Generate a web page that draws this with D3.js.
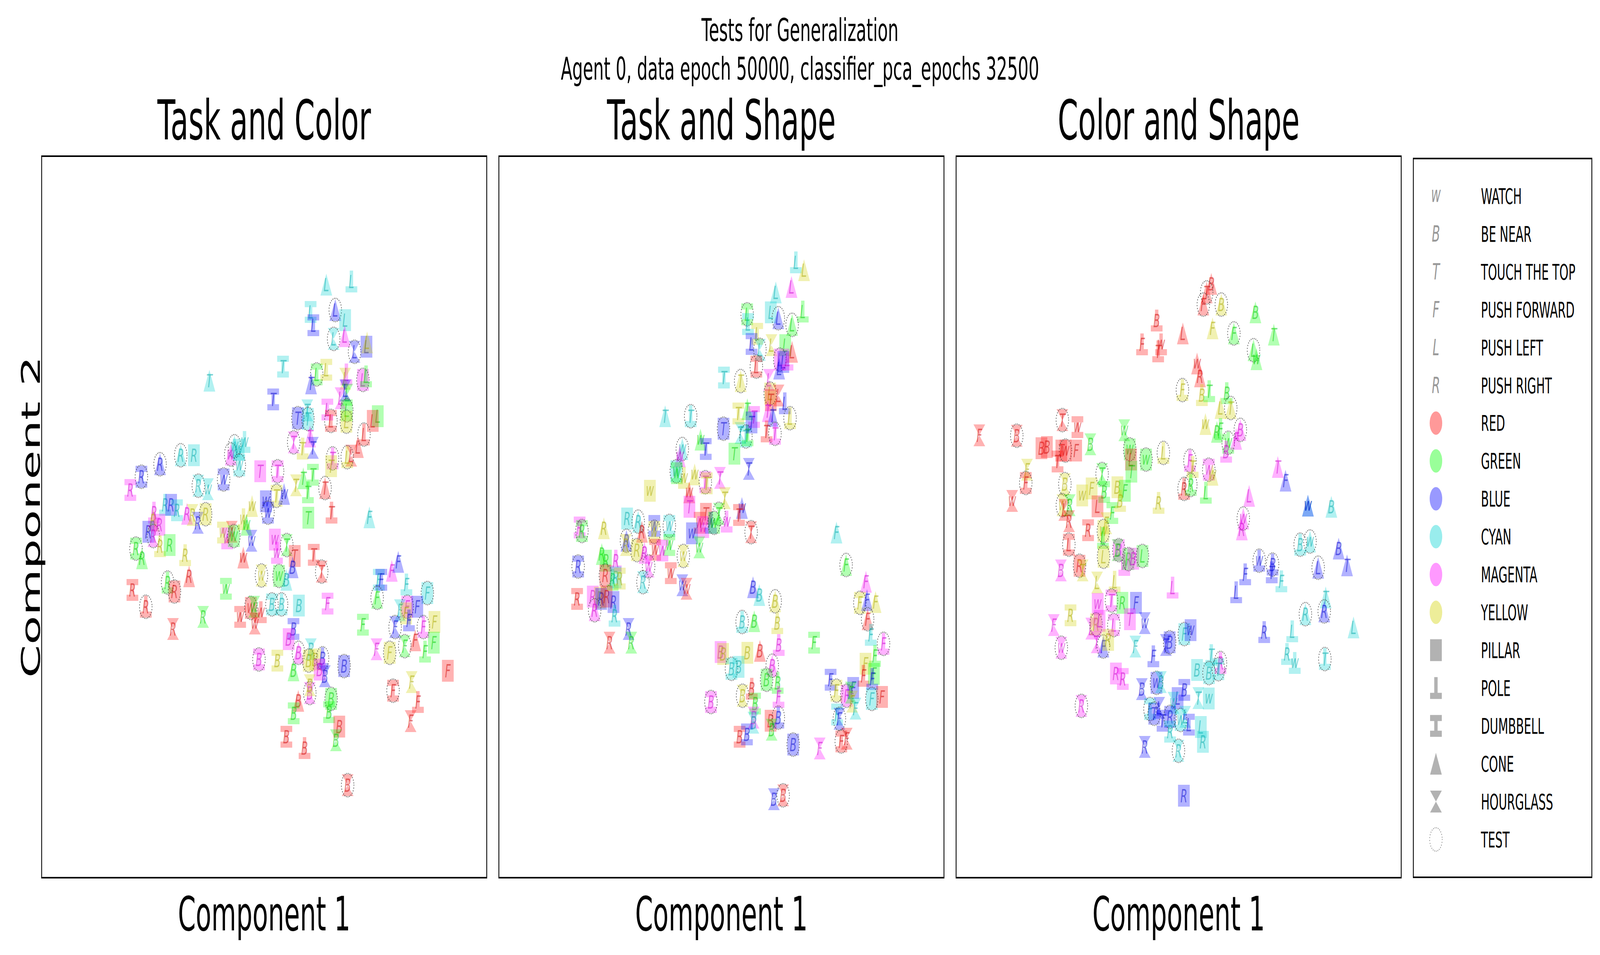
<!DOCTYPE html>
<html>
<head>
<meta charset="utf-8">
<script src="https://cdn.jsdelivr.net/npm/d3@7"></script>
<style>
  html, body { margin: 0; padding: 0; background: #fff; overflow: hidden; }
  svg { display: block; }
  text { font-family: 'DejaVu Sans', sans-serif; }
</style>
</head>
<body>
<script>
// categories
const tasks = ['w', 'B', 'T', 'F', 'L', 'R']
const taskNames = ['WATCH', 'BE NEAR', 'TOUCH THE TOP', 'PUSH FORWARD', 'PUSH LEFT', 'PUSH RIGHT']
const colorKeys = ['r', 'g', 'b', 'c', 'm', 'y']
const colorNames = ['RED', 'GREEN', 'BLUE', 'CYAN', 'MAGENTA', 'YELLOW']
const colorValues = ['#ff0000', '#00ff00', '#0000ff', '#00d2d2', '#ff00ff', '#d2d200']
const shapeKeys = ['P', 'O', 'D', 'C', 'H']
const shapeNames = ['PILLAR', 'POLE', 'DUMBBELL', 'CONE', 'HOURGLASS']
const panelTitles = ['Task and Color', 'Task and Shape', 'Color and Shape']
const suptitle = ['Tests for Generalization', 'Agent 0, data epoch 50000, classifier_pca_epochs 32500']

// points: [component 1, component 2, task + color + shape (+ 't' for test)]
const taskColorPoints = [
  [2.97,5.95,'LcC'],[4.17,6.03,'LcO'],[2.22,5.25,'LcD'],[2.35,4.91,'LbD'],[3.40,5.30,'LbCt'],[3.87,5.04,'LcP'],
  [3.32,4.56,'LcHt'],[3.85,4.63,'LmC'],[4.32,4.23,'LbHt'],[4.89,4.36,'LbP'],[4.92,4.47,'LyC'],[0.90,3.85,'TcD'],
  [2.51,3.65,'LgDt'],[2.97,3.77,'LyD'],[2.24,3.42,'TbC'],[3.93,3.65,'LmO'],[3.87,3.54,'LyH'],[4.72,3.51,'LmPt'],
  [4.87,3.60,'LgO'],[0.43,3.01,'TbD'],[3.65,3.04,'LmH'],[3.97,3.13,'LgH'],[3.88,3.24,'LbH'],[2.06,2.73,'TcH'],
  [1.61,2.53,'TbPt'],[2.09,2.51,'TcPt'],[3.02,2.75,'LmD'],[3.19,2.46,'LrDt'],[3.95,2.73,'LgPt'],[3.93,2.44,'LyPt'],
  [5.43,2.58,'LgP'],[5.19,2.46,'LrP'],[4.77,2.11,'LrOt'],[4.48,1.79,'LrC'],[4.16,1.57,'LrH'],[3.97,1.53,'LyOt'],
  [1.41,1.91,'TmHt'],[1.84,1.75,'TyO'],[2.19,2.06,'TmC'],[2.33,1.77,'TbH'],[3.27,1.50,'TmOt'],[3.20,1.30,'TyP'],
  [-0.19,1.17,'TmP'],[0.64,1.17,'TmDt'],[1.52,0.81,'TyH'],[1.87,0.99,'TgC'],[2.33,1.08,'TgD'],[2.09,0.63,'TgO'],
  [2.91,0.74,'TrCt'],[0.59,0.54,'TyDt'],[0.95,0.59,'wbC'],[0.08,0.40,'wbP'],[-1.42,1.81,'wcCt'],[-0.94,1.92,'wcO'],
  [-1.60,1.60,'wmCt'],[-1.22,1.72,'wcP'],[-1.19,1.32,'wcDt'],[-3.99,1.58,'RcCt'],[-3.36,1.58,'RcP'],[-4.98,1.35,'RbCt'],
  [-5.87,1.03,'RbDt'],[-6.40,0.69,'RmD'],[-3.15,0.80,'RcHt'],[-2.69,0.71,'wcH'],[-1.94,0.96,'wbDt'],[0.18,0.11,'wbDt'],
  [-4.74,0.31,'RcO'],[-4.45,0.31,'RbP'],[-4.17,0.17,'RcD'],[-5.27,0.11,'RmO'],[-3.69,0.08,'RmC'],[-3.43,0.05,'RyH'],
  [-3.17,-0.15,'RbH'],[-2.80,0.07,'RyPt'],[-5.30,-0.09,'RyC'],[-5.01,-0.20,'RmP'],[-5.54,-0.38,'RbP'],[-5.30,-0.49,'RmHt'],
  [-4.98,-0.75,'RyO'],[-4.52,-0.72,'RgP'],[-6.13,-0.81,'RgDt'],[-5.84,-1.06,'RgC'],[-3.78,-0.98,'RyO'],[-3.59,-1.52,'RrC'],
  [-6.30,-1.87,'RrD'],[-5.66,-2.30,'RrOt'],[-4.62,-1.68,'RgOt'],[-4.29,-1.91,'RrPt'],[-4.36,-2.87,'RrH'],[-2.92,-2.56,'RgH'],
  [-1.97,-0.40,'wyD'],[-1.77,-0.55,'wmD'],[-1.55,-0.38,'wrH'],[-1.45,-0.49,'wgPt'],[-0.99,-0.06,'wyO'],[-0.85,-0.20,'wgC'],
  [-0.58,0.28,'wyC'],[-0.61,-0.61,'wbH'],[-1.00,-1.04,'wrC'],[-1.83,-1.84,'wgD'],[-1.15,-2.56,'wrD'],[-0.64,-2.33,'wrPt'],
  [-0.48,-2.30,'wgH'],[-0.16,-2.44,'wrO'],[-0.45,-2.73,'wrH'],[-0.13,-1.50,'wyHt'],[0.51,-0.58,'wmP'],[0.61,-0.92,'wmO'],
  [1.08,-0.72,'TgHt'],[1.46,-1.00,'TrP'],[1.36,-1.29,'BbC'],[0.71,-1.51,'wgPt'],[1.06,-1.61,'BcC'],[0.37,-2.24,'BcDt'],
  [0.83,-2.24,'BcOt'],[1.66,-2.27,'BcP'],[1.40,-2.87,'BbD'],[1.17,-3.13,'BmP'],[1.64,-3.48,'BmCt'],[-0.25,-3.65,'BmDt'],
  [0.63,-3.68,'ByD'],[1.40,-3.93,'BgC'],[1.63,-4.71,'BrC'],[1.41,-5.03,'BgD'],[1.06,-5.63,'BrD'],[2.11,-0.02,'TgP'],
  [3.22,0.11,'TrO'],[5.03,-0.01,'FcC'],[2.37,-0.97,'TrD'],[2.75,-1.40,'TrHt'],[3.03,-2.22,'FmD'],[2.23,-3.39,'BcH'],
  [2.13,-3.68,'ByPt'],[2.44,-3.65,'ByP'],[2.79,-3.62,'BbOt'],[2.65,-3.91,'BmP'],[2.90,-4.08,'BbH'],[3.82,-3.82,'BbPt'],
  [2.18,-4.51,'BmHt'],[2.18,-4.31,'ByH'],[3.20,-4.66,'BgPt'],[3.10,-5.00,'BgD'],[3.59,-5.37,'BrP'],[3.43,-5.72,'BgH'],
  [1.93,-5.92,'BrO'],[3.99,-6.87,'BrHt'],[5.48,-1.61,'FcD'],[5.60,-1.61,'FbD'],[6.10,-1.38,'FmC'],[6.41,-1.15,'FbC'],
  [5.40,-2.07,'FgCt'],[4.72,-2.76,'FgD'],[6.80,-1.73,'FcO'],[7.80,-1.95,'FcPt'],[6.84,-2.30,'FmPt'],[7.32,-2.30,'FbP'],
  [6.49,-2.39,'FcH'],[6.78,-2.47,'FyP'],[6.26,-2.82,'FbHt'],[6.92,-2.65,'FbO'],[8.14,-2.69,'FyP'],[7.61,-2.82,'FmOt'],
  [7.22,-3.16,'FrC'],[8.11,-3.22,'FgP'],[7.69,-3.45,'FgO'],[5.37,-3.39,'FmH'],[6.00,-3.48,'FyPt'],[6.72,-3.31,'FgHt'],
  [8.78,-3.94,'FrP'],[7.05,-4.23,'FyH'],[6.16,-4.45,'FrDt'],[7.35,-4.74,'FrO'],[7.00,-5.23,'FrH'],[-2.62,3.49,'TcC']
]

const taskShapePoints = [
  [-2.69,2.58,'TcC'],[-1.47,2.58,'TcOt'],[0.10,2.26,'TbPt'],[0.91,2.15,'TcH'],[1.17,2.06,'TcDt'],[1.25,2.09,'TgO'],
  [-1.00,1.98,'wgC'],[-0.75,1.74,'TbD'],[0.62,1.62,'TgP'],[1.31,1.23,'TbH'],[-1.87,1.74,'wcCt'],[-1.99,1.55,'wmC'],
  [-2.16,1.17,'wcPt'],[-2.13,1.12,'wgD'],[-3.42,0.67,'wyP'],[-1.79,1.00,'wyO'],[-1.28,1.09,'wyC'],[-0.77,0.89,'TmDt'],
  [-0.70,0.86,'TyD'],[-0.07,1.00,'TmH'],[0.16,0.48,'TyH'],[-1.54,0.63,'wrC'],[-1.53,0.26,'TmP'],[-0.74,0.08,'TrP'],
  [-1.04,-0.15,'wrD'],[-0.87,-0.26,'wmP'],[-1.41,-0.42,'wbP'],[-1.06,-0.78,'wgH'],[-0.50,-0.15,'wbO'],[-0.12,0.08,'TgHt'],
  [-0.35,-0.15,'wgPt'],[0.25,-0.12,'wmO'],[0.98,0.23,'wbC'],[0.84,0.05,'TrD'],[1.42,-0.39,'TrHt'],[-6.78,-0.27,'RmD'],
  [-6.67,-0.36,'RgDt'],[-5.62,-0.29,'RyC'],[-4.51,-0.04,'RcP'],[-3.98,-0.12,'RcCt'],[-3.80,-0.38,'RrC'],[-4.54,-0.61,'RbCt'],
  [-4.57,-0.72,'RyH'],[-4.04,-0.85,'RyPt'],[-3.21,-0.23,'wbD'],[-3.21,-0.38,'wyDt'],[-2.49,-0.23,'wcDt'],[-2.49,-0.72,'wgD'],
  [-3.68,-0.92,'RmC'],[-3.17,-0.84,'wrD'],[-2.82,-0.86,'wmD'],[-3.48,-1.27,'wmHt'],[-1.82,-1.00,'wyHt'],[-2.42,-1.44,'wrD'],
  [-1.87,-1.75,'wbH'],[-1.67,-1.84,'wrH'],[-6.85,-1.27,'RbDt'],[-6.90,-2.10,'RrD'],[-5.72,-0.95,'RgC'],[-5.52,-1.12,'RgP'],
  [-5.05,-1.12,'RmO'],[-5.55,-1.50,'RrPt'],[-5.20,-1.61,'RgO'],[-5.06,-1.55,'RcP'],[-4.86,-1.58,'RyD'],[-6.15,-2.04,'RmP'],
  [-5.81,-2.07,'RyP'],[-5.75,-2.10,'RbP'],[-5.49,-2.04,'RrP'],[-5.16,-2.18,'RbP'],[-6.06,-2.39,'RmCt'],[-5.11,-2.53,'RcO'],
  [-3.75,-1.67,'RcHt'],[-5.35,-3.22,'RrH'],[-4.44,-2.87,'RbH'],[-4.31,-3.22,'RgH'],[3.56,6.52,'LcO'],[3.95,6.32,'LyC'],
  [3.35,5.89,'LmC'],[2.60,5.75,'LcC'],[2.36,5.24,'LcP'],[2.72,5.09,'LbCt'],[3.89,5.26,'LgO'],[3.38,4.92,'LgCt'],
  [1.23,5.19,'LgDt'],[1.27,4.94,'LcD'],[1.71,4.69,'LyD'],[1.44,4.43,'LbD'],[1.84,4.28,'LcHt'],[2.39,4.40,'LyH'],
  [3.05,4.40,'LgP'],[3.38,4.23,'LrC'],[1.67,3.85,'LrDt'],[2.79,4.03,'LmPt'],[2.96,3.97,'LbP'],[2.76,3.80,'LbC'],
  [3.16,4.03,'LmO'],[0.12,3.57,'TcD'],[0.92,3.48,'TyCt'],[2.27,3.51,'LmH'],[2.33,3.16,'LyPt'],[2.73,3.11,'LrH'],
  [3.03,2.91,'LbO'],[3.28,2.53,'LyOt'],[2.36,2.99,'TrP'],[2.22,2.71,'TmC'],[2.45,2.59,'TbC'],[2.16,2.19,'TrO'],
  [2.56,2.13,'TmOt'],[0.81,2.65,'TyD'],[1.24,2.76,'TgC'],[1.56,2.56,'TmD'],[1.44,2.42,'TbP'],[5.50,-0.40,'FcC'],
  [5.96,-1.23,'FgCt'],[6.91,-1.66,'FmC'],[6.62,-2.20,'FyDt'],[6.96,-2.13,'FbC'],[7.37,-2.18,'FyC'],[6.99,-2.62,'FrCt'],
  [7.14,-3.02,'FcO'],[7.75,-3.25,'FmOt'],[7.34,-3.56,'FgO'],[6.89,-3.76,'FyP'],[6.79,-4.07,'FrO'],[7.29,-4.02,'FgP'],
  [7.21,-4.15,'FbO'],[7.19,-4.66,'FcPt'],[7.68,-4.61,'FrP'],[5.22,-4.17,'FbD'],[5.50,-4.45,'FyDt'],[5.99,-4.58,'FmPt'],
  [6.30,-4.38,'FbP'],[6.19,-4.50,'FgH'],[6.25,-4.73,'FyH'],[6.41,-4.91,'FcH'],[5.53,-5.06,'FcD'],[5.64,-5.17,'FbHt'],
  [5.73,-5.75,'FrDt'],[5.99,-5.68,'FrH'],[4.70,-5.93,'FmH'],[4.43,-3.22,'FgD'],[1.51,-1.80,'BbC'],[1.81,-2.00,'BcC'],
  [2.57,-2.16,'ByCt'],[0.99,-2.69,'BcOt'],[1.57,-2.67,'BgC'],[2.67,-2.72,'ByO'],[2.74,-3.28,'BmO'],[-0.04,-3.46,'BmP'],
  [0.08,-3.51,'ByP'],[1.24,-3.48,'ByP'],[1.84,-3.43,'BrC'],[0.48,-3.89,'BcDt'],[0.82,-3.84,'BcP'],[2.43,-3.81,'BmCt'],
  [2.16,-4.17,'BgPt'],[2.69,-4.25,'BgO'],[2.73,-4.61,'FmO'],[1.01,-4.58,'ByHt'],[1.45,-4.40,'BrO'],[1.61,-4.78,'BgD'],
  [1.54,-5.14,'BmH'],[1.53,-5.27,'BcH'],[2.35,-5.22,'BrP'],[2.72,-5.14,'BbOt'],[2.40,-5.45,'BgH'],[0.87,-5.63,'BrD'],
  [1.22,-5.57,'BbD'],[3.43,-5.83,'BbPt'],[2.51,-7.23,'BbH'],[2.95,-7.13,'BrHt'],[-0.50,-4.74,'BmDt']
]

const colorShapePoints = [
  [-9.53,2.09,'FrH'],[-7.74,2.08,'BrHt'],[-6.56,1.76,'BrP'],[-6.30,1.79,'BrP'],[-5.56,2.48,'TrHt'],[-4.84,2.30,'wrD'],
  [-5.61,1.70,'TrP'],[-5.41,1.70,'wrPt'],[-4.90,1.70,'FrP'],[-5.79,1.42,'TrD'],[-4.22,1.86,'BgH'],[-7.25,1.21,'FyH'],
  [-7.31,0.87,'FrDt'],[-7.96,0.41,'wrH'],[-5.44,0.84,'ByHt'],[-5.56,0.30,'wyHt'],[-5.47,0.18,'LrH'],[-5.21,0.30,'RgH'],
  [-5.24,-0.11,'RrH'],[-5.25,-0.71,'LrDt'],[-4.61,0.55,'wyP'],[-4.16,0.73,'FyP'],[-3.66,1.10,'TgHt'],[-3.56,0.64,'BgD'],
  [-3.88,0.27,'LrP'],[-4.33,-0.34,'RrD'],[-3.17,0.10,'FgD'],[-3.46,-0.16,'FyH'],[-3.60,-0.36,'wyPt'],[-3.62,-0.54,'LgO'],
  [-3.59,-1.02,'LyPt'],[-2.60,2.22,'wgH'],[-2.34,1.73,'wgPt'],[-2.28,1.47,'LrP'],[-2.26,1.16,'TgP'],[-2.93,0.76,'ByP'],
  [-2.57,0.67,'FgP'],[-2.80,0.41,'ByO'],[-1.56,1.47,'wgPt'],[-2.86,-0.85,'BmPt'],[-2.92,-0.85,'BgH'],[-2.60,-1.23,'wmO'],
  [-2.40,-1.08,'RgPt'],[-2.17,-1.07,'BmP'],[-1.73,-1.00,'LgPt'],[-5.63,-1.37,'BmH'],[-4.74,-1.25,'RrPt'],[-4.59,-1.37,'TyH'],
  [-3.90,-1.68,'LyH'],[-3.06,-1.66,'LyO'],[-3.87,-2.23,'wmP'],[-3.21,-2.14,'TmDt'],[-2.69,-2.20,'RgP'],[-2.04,-2.20,'FbP'],
  [-2.33,-2.62,'TmP'],[-1.62,-2.72,'wbH'],[-5.17,-2.52,'RyD'],[-5.97,-2.77,'FmH'],[-5.61,-3.35,'wmHt'],[-4.18,-2.86,'LmH'],
  [-3.95,-2.75,'RyPt'],[-3.78,-2.66,'LmP'],[-3.10,-2.77,'LmDt'],[-3.92,-3.21,'TmH'],[-3.60,-3.32,'FbCt'],[-3.37,-3.15,'RyP'],
  [-2.07,-3.32,'FcH'],[-3.00,-4.01,'RmP'],[-2.67,-4.15,'RmD'],[-1.76,-4.41,'BbH'],[-4.65,-4.84,'RmHt'],[1.56,5.97,'BrC'],
  [1.34,5.75,'TrCt'],[1.18,5.44,'FrCt'],[2.04,5.44,'ByCt'],[3.67,5.24,'BgC'],[1.62,4.83,'FyC'],[2.64,4.70,'FgCt'],
  [4.55,4.67,'TgC'],[-1.05,5.03,'BrO'],[0.20,4.70,'LrC'],[-0.84,4.42,'wrO'],[-0.98,4.24,'TrO'],[-1.75,4.42,'FrO'],
  [3.58,4.27,'LgCt'],[3.72,4.04,'wgC'],[0.88,3.93,'wrC'],[1.02,3.60,'RrC'],[0.18,3.25,'FyOt'],[1.11,3.12,'ByO'],
  [1.46,3.22,'TgO'],[2.30,3.17,'BgO'],[2.00,2.79,'LyC'],[2.49,2.79,'TyCt'],[1.28,2.38,'wyC'],[1.83,2.18,'RgC'],
  [2.00,2.25,'FgO'],[2.37,1.90,'wgOt'],[2.27,1.67,'BmO'],[2.75,2.00,'FmC'],[2.95,2.23,'BmCt'],[-0.73,1.64,'LyOt'],
  [0.54,1.44,'FmOt'],[0.67,1.28,'TyO'],[1.44,1.21,'wmDt'],[1.62,1.08,'wyC'],[0.26,0.72,'RrOt'],[0.58,0.82,'RgOt'],
  [1.30,0.62,'LgO'],[-0.96,0.36,'RyO'],[3.37,0.54,'LmC'],[4.74,1.28,'TmC'],[5.11,0.93,'FbC'],[6.18,0.29,'wcC'],
  [6.18,0.29,'wbC'],[7.30,0.26,'BcC'],[3.09,-0.04,'wmCt'],[3.02,-0.32,'RmC'],[5.81,-0.71,'BcOt'],[6.28,-0.63,'wcCt'],
  [7.65,-0.81,'BbC'],[3.18,-1.47,'FbO'],[3.85,-1.12,'wbOt'],[4.49,-1.22,'BbOt'],[4.45,-1.42,'TbO'],[4.91,-1.65,'FcO'],
  [2.75,-1.93,'LbO'],[6.67,-1.30,'LbCt'],[8.05,-1.24,'TbC'],[7.03,-2.06,'TcC'],[6.06,-2.49,'RcCt'],[6.96,-2.42,'RbCt'],
  [8.36,-2.83,'LcC'],[4.09,-2.95,'RbO'],[5.43,-2.93,'LcO'],[5.18,-3.51,'RcO'],[5.55,-3.74,'wcO'],[6.99,-3.64,'TcOt'],
  [-0.29,-1.81,'LmO'],[-1.21,-3.57,'FbO'],[-0.61,-3.28,'TbH'],[-0.43,-3.21,'BbPt'],[0.27,-3.00,'FcPt'],[0.57,-2.90,'wbP'],
  [1.56,-3.54,'TcO'],[2.00,-3.74,'RmOt'],[0.88,-3.92,'BcP'],[1.45,-4.00,'BcPt'],[1.90,-3.90,'TcDt'],[-1.06,-4.25,'wbPt'],
  [-0.85,-4.23,'BcH'],[0.27,-4.43,'BbD'],[-0.05,-4.64,'LbP'],[-0.25,-4.76,'wcH'],[0.94,-4.64,'TcH'],[1.44,-4.65,'wcP'],
  [-1.37,-4.92,'FcDt'],[-1.17,-5.04,'TbPt'],[-0.93,-4.89,'LbH'],[-0.77,-5.22,'TbD'],[-0.41,-5.12,'RbPt'],[-0.41,-5.50,'RcD'],
  [0.09,-5.20,'wcDt'],[0.31,-5.12,'LcH'],[0.49,-5.32,'LbD'],[1.06,-5.38,'LcP'],[1.16,-5.76,'RcP'],[-1.62,-5.89,'RbH'],
  [-0.01,-5.99,'RcHt'],[0.25,-7.14,'RbP']
]

const panelPoints = [taskColorPoints, taskShapePoints, colorShapePoints]

const width = 7646
const height = 2446
const panelLeft = 199
const panelTop = 400
const panelWidth = 2127
const panelHeight = 1848
const panelGap = 58
const markerSize = 56

let body = d3.select('body')

// the figure is laid out on a 7646x2446 grid and stretched onto the real window
let svg = body.append('svg')
    .attr('viewBox', '0 0 ' + width + ' ' + height)
    .attr('preserveAspectRatio', 'none')
    .attr('width', window.innerWidth)
    .attr('height', window.innerHeight)

let colorOf = key => colorValues[colorKeys.indexOf(key)]
let letterColor = key => {
    let c = d3.rgb(colorOf(key))
    return d3.rgb(c.r * 0.8, c.g * 0.8, c.b * 0.8).toString()
}

function shapePath(shape, s) {
    const h = s / 2, bw = s * 0.29 / 2, bh = s * 0.28
    if (shape === 'P') return `M${-h},${-h}H${h}V${h}H${-h}Z`
    if (shape === 'O') return `M${-bw},${-h}H${bw}V${h - bh}H${h}V${h}H${-h}V${h - bh}H${-bw}Z`
    if (shape === 'D') return `M${-h},${-h}H${h}V${-h + bh}H${bw}V${h - bh}H${h}V${h}H${-h}V${h - bh}H${-bw}V${-h + bh}H${-h}Z`
    if (shape === 'C') return `M0,${-h}L${h},${h}H${-h}Z`
    return `M${-h},${-h}H${h}L0,0Z M0,0L${h},${h}H${-h}Z`
}

// suptitle
svg.append('text')
    .attr('x', width / 2).attr('y', 105)
    .attr('text-anchor', 'middle').style('font-size', '80px')
    .text(suptitle[0])
svg.append('text')
    .attr('x', width / 2).attr('y', 204)
    .attr('text-anchor', 'middle').style('font-size', '80px')
    .text(suptitle[1])

panelPoints.forEach((points, i) => {
    let left = panelLeft + i * (panelWidth + panelGap)

    let xScale = d3.scaleLinear().domain([-10.64, 10.64]).range([left, left + panelWidth])
    let yScale = d3.scaleLinear().domain([-9.24, 9.24]).range([panelTop + panelHeight, panelTop])

    let g = svg.append('g').attr('class', 'panel')

    let pts = g.selectAll('g.pt')
        .data(points)
        .join('g')
        .attr('class', 'pt')
        .attr('transform', d => 'translate(' + xScale(d[0]) + ',' + yScale(d[1]) + ')')

    pts.append('path')
        .attr('d', d => shapePath(d[2][2], markerSize))
        .attr('fill', d => colorOf(d[2][1]))
        .attr('fill-opacity', 0.3)

    pts.append('text')
        .attr('text-anchor', 'middle')
        .attr('dy', d => d[2][0] === 'w' ? '0.27em' : '0.36em')
        .style('font-size', '47px')
        .style('font-style', 'italic')
        .attr('fill', d => letterColor(d[2][1]))
        .attr('fill-opacity', 0.5)
        .text(d => d[2][0])

    pts.filter(d => d[2][3] === 't')
        .append('circle')
        .attr('r', 30)
        .attr('fill', 'none')
        .attr('stroke', '#444')
        .attr('stroke-opacity', 0.85)
        .attr('stroke-width', 3.5)
        .attr('stroke-linecap', 'round')
        .attr('stroke-dasharray', '0.1 7.5')

    // frame, no ticks
    g.append('rect')
        .attr('x', left).attr('y', panelTop)
        .attr('width', panelWidth).attr('height', panelHeight)
        .attr('fill', 'none').attr('stroke', '#000').attr('stroke-width', 4)

    g.append('text')
        .attr('x', left + panelWidth / 2).attr('y', 357)
        .attr('text-anchor', 'middle').style('font-size', '140px')
        .text(panelTitles[i])

    g.append('text')
        .attr('x', left + panelWidth / 2).attr('y', 2383)
        .attr('text-anchor', 'middle').style('font-size', '122px')
        .text('Component 1')

    if (i === 0) {
        g.append('text')
            .attr('transform', 'translate(' + 190 + ',' + (panelTop + panelHeight / 2) + ') rotate(-90)')
            .attr('text-anchor', 'middle').style('font-size', '122px')
            .text('Component 2')
    }
})

// legend
let legendLeft = 6754
let legend = svg.append('g').attr('class', 'legend')
legend.append('rect')
    .attr('x', legendLeft).attr('y', 406)
    .attr('width', 853).attr('height', 1841)
    .attr('fill', '#fff').attr('stroke', '#000').attr('stroke-width', 4)

let entries = []
tasks.forEach((t, i) => entries.push({kind: 'task', key: t, label: taskNames[i]}))
colorKeys.forEach((c, i) => entries.push({kind: 'color', key: c, label: colorNames[i]}))
shapeKeys.forEach((s, i) => entries.push({kind: 'shape', key: s, label: shapeNames[i]}))
entries.push({kind: 'test', key: 't', label: 'TEST'})

let ly = d3.scalePoint().domain(d3.range(entries.length)).range([502, 2150])
let items = legend.selectAll('g.item')
    .data(entries)
    .join('g')
    .attr('class', 'item')
    .attr('transform', (d, i) => 'translate(0,' + ly(i) + ')')

items.filter(d => d.kind === 'task').append('text')
    .attr('x', 6862).attr('text-anchor', 'middle')
    .attr('dy', d => d.key === 'w' ? '0.27em' : '0.36em')
    .style('font-size', '57px').style('font-style', 'italic')
    .attr('fill', '#999')
    .text(d => d.key)

items.filter(d => d.kind === 'color').append('circle')
    .attr('cx', 6862).attr('r', 30)
    .attr('fill', d => colorOf(d.key)).attr('fill-opacity', 0.4)

items.filter(d => d.kind === 'shape').append('path')
    .attr('transform', 'translate(6862,0)')
    .attr('d', d => shapePath(d.key, markerSize))
    .attr('fill', '#000').attr('fill-opacity', 0.3)

items.filter(d => d.kind === 'test').append('circle')
    .attr('cx', 6862).attr('r', 30)
    .attr('fill', 'none').attr('stroke', '#777')
    .attr('stroke-width', 3).attr('stroke-linecap', 'round')
    .attr('stroke-dasharray', '0.1 7.5')

items.append('text')
    .attr('x', 7077).attr('dy', '0.36em')
    .style('font-size', '55px')
    .text(d => d.label)
</script>
</body>
</html>
